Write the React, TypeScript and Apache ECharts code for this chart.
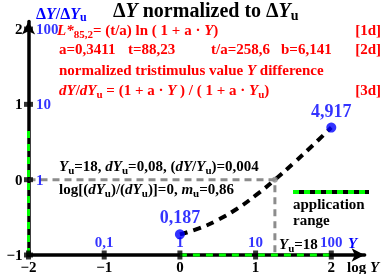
import React, { useEffect, useRef } from 'react';
import * as echarts from 'echarts';

// axis ticks (log scales)
const xTicks = [-2, -1, 0, 1, 2];
const yTicks = [-1, 0, 1, 2];
// blue value labels (linear values) for the log axes
const xBlueAt = [-1, 0, 1, 2];
const xBlueLabels = ['0,1', '1', '10', '100'];
const yBlueAt = [0, 1, 2];
const yBlueLabels = ['1', '10', '100'];
// curve log(dY/dYu) vs log Y
const curveX = [0, 0.25, 0.5, 0.75, 1, 1.25, 1.5, 1.75, 2];
const curveY = [-0.726, -0.648, -0.536, -0.389, -0.209, -0.005, 0.218, 0.451, 0.692];
// marked end points
const pointX = [0, 2];
const pointY = [-0.726, 0.692];
const pointLabels = ['0,187', '4,917'];
// reference Yu = 18 -> log 1.255
const refX = [-2, 1.255, 1.255];
const refY = [0, 0, -1];
// application range
const rangeX = [0, 2];
const rangeY = [-1, 0.69];

const FONT = '"Liberation Serif", "Times New Roman", serif';

const richFor = (color: string, size: number, lh?: number) => {
  const sub = Math.round(size * 0.72);
  const L = lh ?? size + 4;
  return {
    n: { fontFamily: FONT, fontWeight: 'bold', fontSize: size, fill: color, lineHeight: L },
    i: { fontFamily: FONT, fontWeight: 'bold', fontStyle: 'italic', fontSize: size, fill: color, lineHeight: L },
    s: { fontFamily: FONT, fontWeight: 'bold', fontSize: sub, fill: color, lineHeight: sub - 1, verticalAlign: 'bottom' },
  };
};

const txt = (x: number, y: number, text: string, color: string, size: number, align = 'left', lh?: number) => ({
  type: 'text',
  x,
  y,
  z: 20,
  style: { text, rich: richFor(color, size, lh), align, verticalAlign: 'middle', fill: color },
});

const RED = '#ff0000';
const BLUE = '#0000ff';
const GREEN = '#00ff00';
const GRAY = '#8c8c8c';

export default function App() {
  const ref = useRef<HTMLDivElement>(null);
  useEffect(() => {
    if (!ref.current) return;
    const chart = echarts.init(ref.current, undefined, { renderer: 'svg' });
    const axisLabel = {
      color: '#000',
      fontFamily: FONT,
      fontWeight: 'bold',
      fontSize: 15,
      formatter: (v: number) => (Math.abs(v - Math.round(v)) < 1e-9 ? String(Math.round(v)).replace('-', '\u2212') : ''),
    };
    const axisLine = {
      onZero: false,
      symbol: ['none', 'arrow'],
      symbolSize: [10, 13],
      lineStyle: { color: '#000', width: 3.5 },
    };
    chart.setOption({
      animation: false,
      grid: { left: 28.5, right: 17.4, top: 21.5, bottom: 19 },
      xAxis: {
        type: 'value', min: -2, max: 2.44, interval: 1,
        axisLine, axisTick: { show: false }, splitLine: { show: false },
        axisLabel: { ...axisLabel, margin: 4 },
      },
      yAxis: {
        type: 'value', min: -1, max: 2.1, interval: 1,
        axisLine, axisTick: { show: false }, splitLine: { show: false },
        axisLabel: { ...axisLabel, margin: 6 },
      },
      series: [
        {
          type: 'line', data: refX.map((x, i) => [x, refY[i]]), symbol: 'none', z: 2, clip: false,
          lineStyle: { color: GRAY, width: 3, type: [7, 5] },
        },
        {
          type: 'line', data: curveX.map((x, i) => [x, curveY[i]]), smooth: true, symbol: 'none', z: 3, clip: false,
          lineStyle: { color: '#000', width: 4, type: [8, 6] },
        },
        {
          type: 'line', data: [[rangeX[0], -1], [rangeX[1], -1]], symbol: 'none', z: 4, clip: false,
          lineStyle: { color: GREEN, width: 3, type: [7, 6] },
        },
        {
          type: 'line', data: [[-2, rangeY[0]], [-2, rangeY[1]]], symbol: 'none', z: 4, clip: false,
          lineStyle: { color: GREEN, width: 3, type: [7, 6] },
        },
        {
          type: 'scatter', data: xTicks.map((x) => [x, -1]), symbol: 'rect', symbolSize: [5, 9], z: 5, clip: false,
          itemStyle: { color: '#000' }, silent: true,
        },
        {
          type: 'scatter', data: yTicks.map((y) => [-2, y]), symbol: 'rect', symbolSize: [9, 5], z: 5, clip: false,
          itemStyle: { color: '#000' }, silent: true,
        },
        {
          type: 'scatter', data: [[refX[1], refY[1]]], symbolSize: 6, z: 5, itemStyle: { color: GRAY },
        },
        {
          type: 'scatter', data: pointX.map((x, i) => [x, pointY[i]]), symbolSize: 10, z: 6, clip: false,
          itemStyle: { color: BLUE },
          label: {
            show: true, position: 'top', distance: 3,
            formatter: (p: any) => pointLabels[p.dataIndex],
            color: BLUE, fontFamily: FONT, fontWeight: 'bold', fontSize: 18,
          },
        },
        {
          type: 'scatter', data: xBlueAt.map((x) => [x, -1]), symbolSize: 1, z: 7, clip: false,
          itemStyle: { color: 'transparent' },
          label: {
            show: true, position: 'top', distance: 5,
            formatter: (p: any) => xBlueLabels[p.dataIndex],
            color: BLUE, fontFamily: FONT, fontWeight: 'bold', fontSize: 15,
          },
        },
        {
          type: 'scatter', data: yBlueAt.map((y) => [-2, y]), symbolSize: 1, z: 7, clip: false,
          itemStyle: { color: 'transparent' },
          label: {
            show: true, position: 'right', distance: 7,
            formatter: (p: any) => yBlueLabels[p.dataIndex],
            color: BLUE, fontFamily: FONT, fontWeight: 'bold', fontSize: 15,
          },
        },
      ],
      graphic: [
        txt(113, 10, '{n|Δ}{i|Y}{n| normalized to Δ}{i|Y}{s|u}', '#000', 20),
        txt(36, 13, '{n|Δ}{i|Y}{n|/Δ}{i|Y}{s|u}', BLUE, 16),
        txt(57, 30, '{i|L*}{s|85,2}{n|= (t/a) ln ( 1 + a · }{i|Y}{n|)}', RED, 15),
        txt(381, 30, '{n|[1d]}', RED, 15, 'right'),
        txt(59, 49, '{n|a=0,3411}', RED, 15),
        txt(128, 49, '{n|t=88,23}', RED, 15),
        txt(211, 49, '{n|t/a=258,6}', RED, 15),
        txt(281, 49, '{n|b=6,141}', RED, 15),
        txt(381, 49, '{n|[2d]}', RED, 15, 'right'),
        txt(59, 70, '{n|normalized tristimulus value }{i|Y}{n| difference}', RED, 15),
        txt(59, 90, '{i|dY}{n|/}{i|dY}{s|u}{n| = (1 + a · }{i|Y}{n| ) / ( 1 + a · }{i|Y}{s|u}{n|)}', RED, 15),
        txt(381, 90, '{n|[3d]}', RED, 15, 'right'),
        txt(59, 166, '{i|Y}{s|u}{n|=18, }{i|dY}{s|u}{n|=0,08, (}{i|dY}{n|/}{i|Y}{s|u}{n|)=0,004}', '#000', 15),
        txt(59, 189, '{n|log[(}{i|dY}{s|u}{n|)/(}{i|dY}{s|u}{n|)]=0, }{i|m}{s|u}{n|=0,86}', '#000', 15),
        txt(279, 244, '{i|Y}{s|u}{n|=18}', '#000', 15),
        txt(348, 243, '{i|Y}', BLUE, 15),
        txt(347, 267, '{n|log }{i|Y}', '#000', 15),
        txt(293, 212, '{n|application}\n{n|range}', '#000', 15, 'left', 16),
        {
          type: 'line', z: 20,
          shape: { x1: 293, y1: 192, x2: 369, y2: 192 },
          style: { stroke: '#000', lineWidth: 4 },
        },
        {
          type: 'line', z: 21,
          shape: { x1: 293, y1: 192, x2: 369, y2: 192 },
          style: { stroke: GREEN, lineWidth: 4, lineDash: [6, 5] },
        },
      ],
    });
    return () => chart.dispose();
  }, []);
  return <div ref={ref} style={{ position: 'fixed', left: 0, top: 0, width: 382, height: 274 }} />;
}
